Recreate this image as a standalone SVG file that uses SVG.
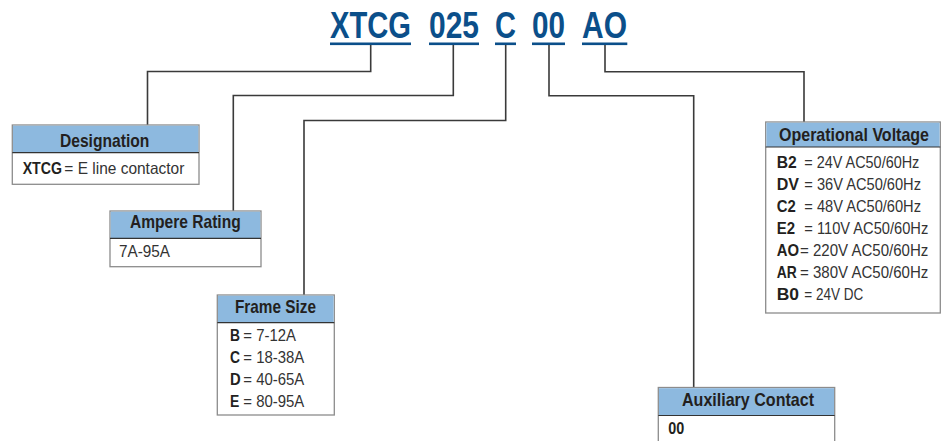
<svg xmlns="http://www.w3.org/2000/svg" width="941" height="441" viewBox="0 0 941 441">
<style>
.code{font-family:"Liberation Sans",Arial,sans-serif;font-weight:bold;font-size:37px;fill:#0b4f8a}
.ul{fill:#0b4f8a}
.box{fill:#fff;stroke:#8c8c8c;stroke-width:1.3}
.hd{fill:#8db9df}
.sep{stroke:#333;stroke-width:1.2}
.ht{font-family:"Liberation Sans",Arial,sans-serif;font-weight:bold;font-size:18.5px;fill:#231f20}
.k{font-family:"Liberation Sans",Arial,sans-serif;font-weight:bold;font-size:16.5px;fill:#231f20}
.v{font-family:"Liberation Sans",Arial,sans-serif;font-size:16.5px;fill:#333}
.conn{fill:none;stroke:#3a3a3a;stroke-width:1.6}
</style>
<rect width="941" height="441" fill="#fff"/>
<g id="code">
<text class="code" x="330" y="38" textLength="81" lengthAdjust="spacingAndGlyphs">XTCG</text>
<text class="code" x="429" y="38" textLength="50" lengthAdjust="spacingAndGlyphs">025</text>
<text class="code" x="495" y="38" textLength="21" lengthAdjust="spacingAndGlyphs">C</text>
<text class="code" x="532" y="38" textLength="33" lengthAdjust="spacingAndGlyphs">00</text>
<text class="code" x="582" y="38" textLength="45" lengthAdjust="spacingAndGlyphs">AO</text>
<rect class="ul" x="330" y="42.5" width="81" height="2.6"/>
<rect class="ul" x="429" y="42.5" width="50" height="2.6"/>
<rect class="ul" x="495" y="42.5" width="21" height="2.6"/>
<rect class="ul" x="532" y="42.5" width="33" height="2.6"/>
<rect class="ul" x="582" y="42.5" width="45.3" height="2.6"/>
</g>
<g id="connectors">
<path class="conn" d="M370.7,45 V71.5 H147.5 V125"/>
<path class="conn" d="M453.3,45 V95.5 H233.3 V211"/>
<path class="conn" d="M505.7,45 V120.5 H304 V295"/>
<path class="conn" d="M549,45 V95.7 H693.7 V388"/>
<path class="conn" d="M605,45 V71.7 H804 V122"/>
</g>
<g id="designation">
<rect class="box" x="12.3" y="125" width="186.7" height="59.3"/>
<rect class="hd" x="13" y="125.7" width="185.3" height="27"/>
<line class="sep" x1="12.3" y1="152.7" x2="199" y2="152.7"/>
<text class="ht" x="60" y="146.5" textLength="89.3" lengthAdjust="spacingAndGlyphs">Designation</text>
<text class="k" x="22.7" y="174" textLength="39.3" lengthAdjust="spacingAndGlyphs">XTCG</text>
<text class="v" x="64.3" y="174" textLength="120" lengthAdjust="spacingAndGlyphs">= E line contactor</text>
</g>
<g id="ampere">
<rect class="box" x="110" y="211" width="151" height="55.7"/>
<rect class="hd" x="110.7" y="211.7" width="149.6" height="26.6"/>
<line class="sep" x1="110" y1="238.3" x2="261" y2="238.3"/>
<text class="ht" x="130" y="228.3" textLength="110.7" lengthAdjust="spacingAndGlyphs">Ampere Rating</text>
<text class="v" x="119" y="257.3" textLength="51" lengthAdjust="spacingAndGlyphs">7A-95A</text>
</g>
<g id="frame">
<rect class="box" x="217.3" y="295" width="117" height="120"/>
<rect class="hd" x="218" y="295.7" width="115.6" height="27"/>
<line class="sep" x1="217.3" y1="322.7" x2="334.3" y2="322.7"/>
<text class="ht" x="235" y="313.3" textLength="81" lengthAdjust="spacingAndGlyphs">Frame Size</text>
<text class="k" x="230" y="341" textLength="10" lengthAdjust="spacingAndGlyphs">B</text>
<text class="v" x="243.3" y="341" textLength="52.7" lengthAdjust="spacingAndGlyphs">= 7-12A</text>
<text class="k" x="230" y="363.3" textLength="10" lengthAdjust="spacingAndGlyphs">C</text>
<text class="v" x="243.3" y="363.3" textLength="61" lengthAdjust="spacingAndGlyphs">= 18-38A</text>
<text class="k" x="230" y="385" textLength="10.7" lengthAdjust="spacingAndGlyphs">D</text>
<text class="v" x="243.3" y="385" textLength="61" lengthAdjust="spacingAndGlyphs">= 40-65A</text>
<text class="k" x="230" y="406.7" textLength="9.3" lengthAdjust="spacingAndGlyphs">E</text>
<text class="v" x="243.3" y="406.7" textLength="61" lengthAdjust="spacingAndGlyphs">= 80-95A</text>
</g>
<g id="voltage">
<rect class="box" x="765.7" y="122" width="174.6" height="191"/>
<rect class="hd" x="766.4" y="122.7" width="173.2" height="24.3"/>
<line class="sep" x1="765.7" y1="147" x2="940.3" y2="147"/>
<text class="ht" x="779" y="141" textLength="150" lengthAdjust="spacingAndGlyphs">Operational Voltage</text>
<text class="k" x="776.7" y="168" textLength="20" lengthAdjust="spacingAndGlyphs">B2</text>
<text class="v" x="804.3" y="168" textLength="115" lengthAdjust="spacingAndGlyphs">= 24V AC50/60Hz</text>
<text class="k" x="776.7" y="190" textLength="22.3" lengthAdjust="spacingAndGlyphs">DV</text>
<text class="v" x="804.3" y="190" textLength="116.7" lengthAdjust="spacingAndGlyphs">= 36V AC50/60Hz</text>
<text class="k" x="776.7" y="212" textLength="19" lengthAdjust="spacingAndGlyphs">C2</text>
<text class="v" x="804.3" y="212" textLength="116.7" lengthAdjust="spacingAndGlyphs">= 48V AC50/60Hz</text>
<text class="k" x="776.7" y="234" textLength="18.3" lengthAdjust="spacingAndGlyphs">E2</text>
<text class="v" x="804.3" y="234" textLength="124" lengthAdjust="spacingAndGlyphs">= 110V AC50/60Hz</text>
<text class="k" x="776.7" y="256" textLength="22.3" lengthAdjust="spacingAndGlyphs">AO</text>
<text class="v" x="800" y="256" textLength="128.3" lengthAdjust="spacingAndGlyphs">= 220V AC50/60Hz</text>
<text class="k" x="776.7" y="278" textLength="20" lengthAdjust="spacingAndGlyphs">AR</text>
<text class="v" x="800" y="278" textLength="128.3" lengthAdjust="spacingAndGlyphs">= 380V AC50/60Hz</text>
<text class="k" x="776.7" y="300" textLength="22.3" lengthAdjust="spacingAndGlyphs">B0</text>
<text class="v" x="804.3" y="300" textLength="59" lengthAdjust="spacingAndGlyphs">= 24V DC</text>
</g>
<g id="auxiliary">
<rect class="box" x="658.3" y="387.5" width="176.4" height="60"/>
<rect class="hd" x="659" y="388.2" width="175" height="27.3"/>
<line class="sep" x1="658.3" y1="415.5" x2="834.7" y2="415.5"/>
<text class="ht" x="682" y="405.5" textLength="132" lengthAdjust="spacingAndGlyphs">Auxiliary Contact</text>
<text class="k" x="668.3" y="433.5" textLength="16" lengthAdjust="spacingAndGlyphs">00</text>
</g>
</svg>
